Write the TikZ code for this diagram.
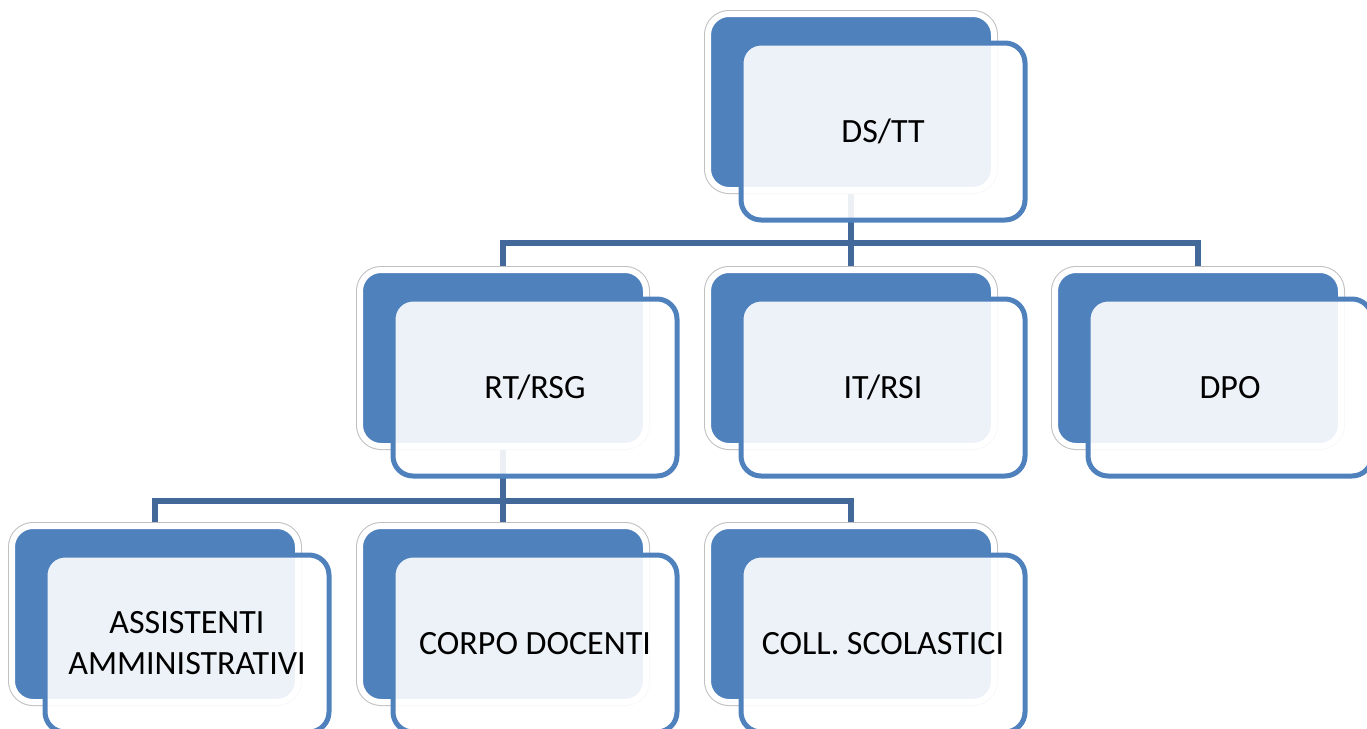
\documentclass[tikz,border=0pt]{standalone}
\usepackage{fontspec}
\setmainfont{Carlito}
\usetikzlibrary{calc}
\definecolor{accent}{HTML}{4F81BD}
\definecolor{connclr}{HTML}{43699B}
\definecolor{rimgray}{HTML}{BFBFBF}
\pgfdeclarelayer{bg}
\pgfsetlayers{bg,main}
\tikzset{
  backbox/.style={rectangle, rounded corners=21pt, minimum width=286pt, minimum height=176pt,
    fill=accent, draw=white, line width=6pt, inner sep=0pt,
    preaction={draw=rimgray, line width=8pt}},
  frontbox/.style={rectangle, rounded corners=20pt, minimum width=284pt, minimum height=177pt,
    draw=accent, line width=5pt, fill=white, fill opacity=0.9, text opacity=1,
    inner sep=0pt, align=center, font=\fontsize{34}{41}\selectfont},
  conn/.style={draw=connclr, line width=5.5pt}
}
\begin{document}
\begin{tikzpicture}[x=1pt,y=-1pt]
\useasboundingbox (0,0) rectangle (1367,728);
\clip (0,0) rectangle (1367,728);
% bus coordinates
\coordinate (busA) at (851,243);
\coordinate (busB) at (503,501);
% back boxes
\node[backbox] (b1)  at (851,102) {};
\node[backbox] (b21) at (503,358) {};
\node[backbox] (b22) at (851,358) {};
\node[backbox] (b23) at (1198,358) {};
\node[backbox] (b31) at (155,614) {};
\node[backbox] (b32) at (503,614) {};
\node[backbox] (b33) at (851,614) {};
% connectors (behind the boxes)
\begin{pgfonlayer}{bg}
\draw[conn] (b1.center) -- (busA);
\draw[conn] (b21.center) |- (busA) -| (b23.center);
\draw[conn] (busA) -- (b22.center);
\draw[conn] (b21.center) -- (busB);
\draw[conn] (b31.center) |- (busB) -| (b33.center);
\draw[conn] (busB) -- (b32.center);
\end{pgfonlayer}
% front boxes
\node[frontbox] (f1)  at ($(b1.center)+(32,29.5)$) {DS/TT};
\node[frontbox] (f21) at ($(b21.center)+(32,29.5)$) {RT/RSG};
\node[frontbox] (f22) at ($(b22.center)+(32,29.5)$) {IT/RSI};
\node[frontbox] (f23) at ($(b23.center)+(32,29.5)$) {DPO};
\node[frontbox] (f31) at ($(b31.center)+(32,29.5)$) {ASSISTENTI\\AMMINISTRATIVI};
\node[frontbox] (f32) at ($(b32.center)+(32,29.5)$) {CORPO DOCENTI};
\node[frontbox] (f33) at ($(b33.center)+(32,29.5)$) {COLL. SCOLASTICI};
\end{tikzpicture}
\end{document}
